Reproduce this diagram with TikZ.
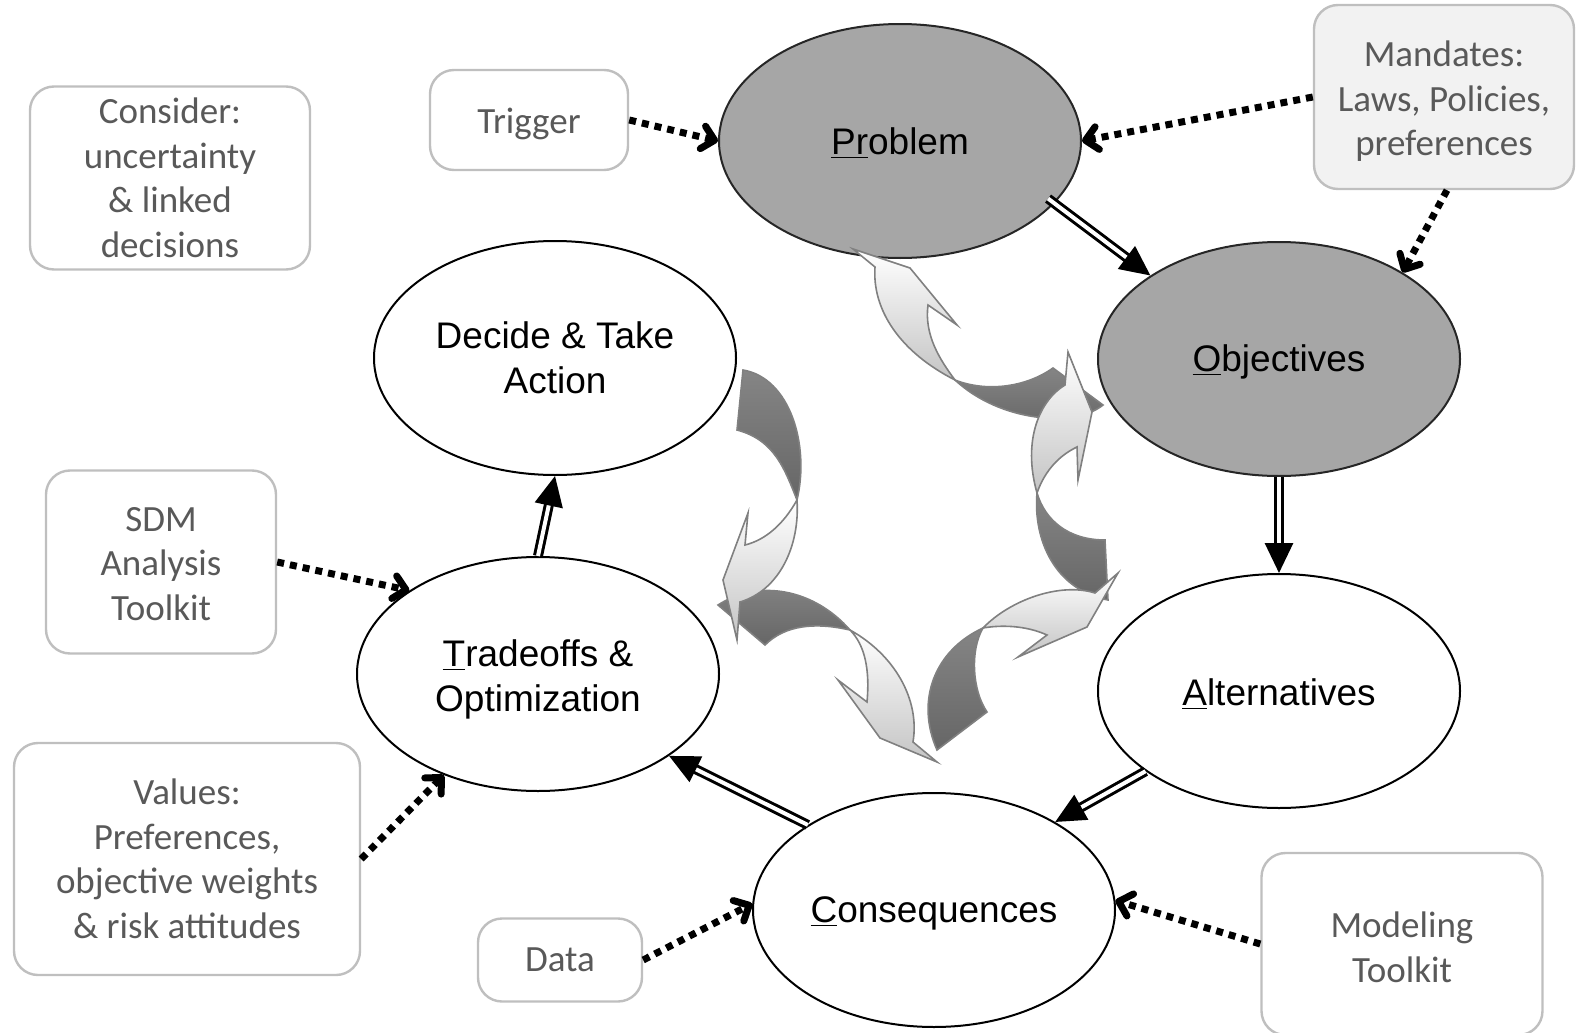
\documentclass[tikz,border=0pt]{standalone}
\usepackage{fontspec}
\newfontfamily\stagefont{Liberation Sans}
\newfontfamily\notefont{Carlito}
\usetikzlibrary{shapes.geometric,arrows.meta}

\definecolor{stagegray}{HTML}{A6A6A6}
\definecolor{boxline}{HTML}{BFBFBF}
\definecolor{boxtext}{HTML}{595959}
\definecolor{boxfill}{HTML}{F2F2F2}
\definecolor{ribline}{HTML}{808080}
\definecolor{ribdarkA}{HTML}{858585}
\definecolor{ribdarkB}{HTML}{666666}
\definecolor{riblightB}{HTML}{C4C4C4}

% extra height on a first line, to sit the text a little lower
\newcommand{\lift}[1]{\rule{0pt}{#1}}

\begin{document}
\begin{tikzpicture}[x=0.5pt, y=-0.5pt,
    stage/.style={ellipse, draw=black, line width=1pt, fill=white, minimum width=181pt, minimum height=117pt, inner sep=0pt, align=center, font=\stagefont\fontsize{18.5pt}{22.5pt}\selectfont},
    keystage/.style={stage, fill=stagegray, draw=black!85},
    note/.style={draw=boxline, line width=1.2pt, rounded corners=12pt, fill=white, align=center, text=boxtext, inner sep=0pt, font=\notefont\fontsize{18.5pt}{22.25pt}\selectfont},
    feed/.style={line width=3.5pt, dash pattern=on 3.5pt off 3pt, -{Straight Barb[round,length=6pt,width=11.5pt]}},
    flow/.style={double, double distance=2pt, line width=1.5pt, -{Triangle[length=15pt,width=14pt]}},
    ribdark/.style={draw=ribline, line width=0.8pt, top color=ribdarkA, bottom color=ribdarkB},
    riblight/.style={draw=ribline, line width=0.8pt, top color=white, bottom color=riblightB}]
    \useasboundingbox (0,0) rectangle (1576,1033);

    % stages of the cycle
    \node[keystage] (problem) at (900,141) {\lift{15.3pt}\underline{Pr}oblem};
    \node[keystage] (objectives) at (1279,359) {\lift{16.5pt}\underline{O}bjectives};
    \node[stage] (alternatives) at (1279,691) {\lift{16.2pt}\underline{A}lternatives};
    \node[stage] (consequences) at (934,910) {\lift{16.5pt}\underline{C}onsequences};
    \node[stage] (tradeoffs) at (538,674) {\lift{18.5pt}\underline{T}radeoffs \&\\Optimization};
    \node[stage] (decide) at (555,358) {Decide \& Take\\Action};

    % side notes
    \node[note, minimum width=140pt, minimum height=91.5pt] (consider) at (170,178) {Consider:\\uncertainty\\\& linked\\decisions};
    \node[note, minimum width=99pt, minimum height=50pt] (trigger) at (529,120) {\lift{16.5pt}Trigger};
    \node[note, fill=boxfill, minimum width=130pt, minimum height=92pt] (mandates) at (1444,97) {\lift{17pt}Mandates:\\Laws, Policies,\\preferences};
    \node[note, minimum width=115pt, minimum height=91.5pt] (sdm) at (161,562) {\lift{14pt}SDM\\Analysis\\Toolkit};
    \node[note, minimum width=173pt, minimum height=116pt] (values) at (187,859) {Values:\\Preferences,\\objective weights\\\& risk attitudes};
    \node[note, minimum width=82pt, minimum height=41.5pt] (data) at (560,960) {Data};
    \node[note, minimum width=140.5pt, minimum height=91pt] (modeling) at (1402,944) {\lift{16pt}Modeling\\Toolkit};

    % inputs
    \draw[feed] (trigger.east) -- (problem.180);
    \draw[feed] (mandates.west) -- (problem.east);
    \draw[feed] ([xshift=1.5pt]mandates.south) -- (objectives.35);
    \draw[feed] (sdm.east) -- (tradeoffs.147);
    \draw[feed] (values.east) -- (tradeoffs.227);
    \draw[feed] (data.east) -- (consequences.178);
    \draw[feed] (modeling.west) -- (consequences.3);

    % main sequence
    \draw[flow, shorten <=-4pt] (problem.-22) -- (objectives.147);
    \draw[flow] (objectives.south) -- (alternatives.north);
    \draw[flow] (alternatives.211) -- (consequences.36);
    \draw[flow] (consequences.146) -- (tradeoffs.-32);
    \draw[flow] (tradeoffs.north) -- (decide.south);

    % twisted feedback ribbons, back sides
    \path[ribdark] (955,380) .. controls (985,392) and (1025,388) .. (1053,368) -- (1103,405) .. controls (1075,428) and (1000,422) .. (955,380) -- cycle;
    \path[ribdark] (1037,493) .. controls (1033,540) and (1055,590) .. (1108,600) -- (1105,540) .. controls (1068,540) and (1045,520) .. (1037,493) -- cycle;
    \path[ribdark] (983,628) .. controls (935,650) and (915,700) .. (937,750) -- (987,712) .. controls (972,690) and (970,650) .. (983,628) -- cycle;
    \path[ribdark] (718,605) .. controls (760,578) and (815,590) .. (850,630) .. controls (815,622) and (785,625) .. (765,645) -- cycle;
    \path[ribdark] (743,370) .. controls (790,378) and (810,445) .. (797,500) .. controls (785,470) and (775,440) .. (737,430) -- cycle;
    % front sides with heads
    \path[riblight] (955,380) .. controls (940,360) and (924,335) .. (928,305) -- (957,325) -- (910,268) -- (853,249) -- (875,267) .. controls (872,310) and (900,352) .. (955,380) -- cycle;
    \path[riblight] (1037,493) .. controls (1022,440) and (1040,400) .. (1065,385) -- (1068,352) -- (1092,412) -- (1078,480) -- (1077,447) .. controls (1060,455) and (1045,470) .. (1037,493) -- cycle;
    \path[riblight] (983,628) .. controls (1010,600) and (1060,582) .. (1095,593) -- (1118,573) -- (1087,627) -- (1018,657) -- (1047,635) .. controls (1025,625) and (1000,625) .. (983,628) -- cycle;
    \path[riblight] (850,630) .. controls (895,655) and (920,700) .. (913,742) -- (937,762) -- (880,738) -- (838,680) -- (867,702) .. controls (870,670) and (865,645) .. (850,630) -- cycle;
    \path[riblight] (797,500) .. controls (800,545) and (780,590) .. (740,602) -- (737,640) -- (723,580) -- (748,513) -- (745,545) .. controls (765,540) and (783,525) .. (797,500) -- cycle;
\end{tikzpicture}
\end{document}
